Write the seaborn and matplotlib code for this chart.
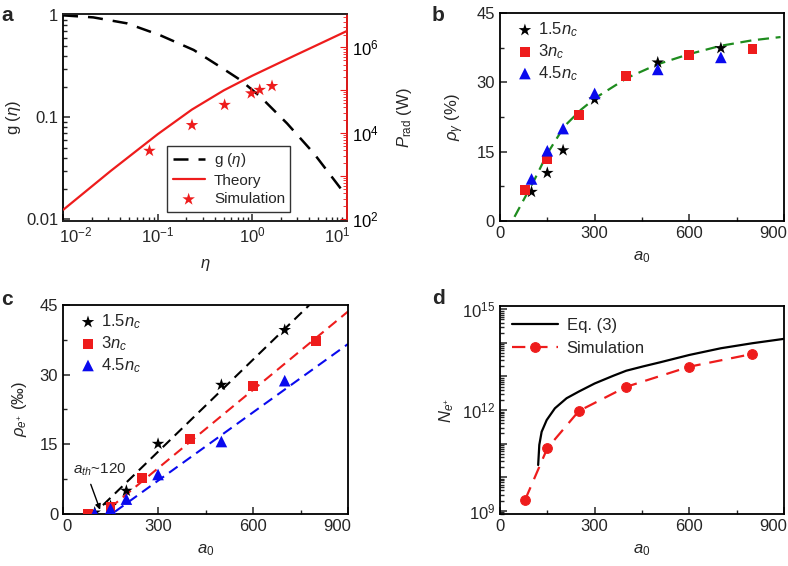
import numpy as np
import pandas as pd
import matplotlib
matplotlib.use("Agg")
import matplotlib.pyplot as plt
import matplotlib.ticker as mticker
import matplotlib.transforms as mtrans
import seaborn as sns

# ---- panel a ----
eta_g = [0.0099, 0.0207, 0.047, 0.105, 0.24, 0.457, 0.75, 1.22, 2.34, 4.49, 10.1]
g_eta = [1.0, 0.955, 0.835, 0.64, 0.457, 0.313, 0.232, 0.159, 0.087, 0.0443, 0.0166]
eta_th = [0.01, 0.0316, 0.1, 0.229, 0.5, 1.0, 2.75, 5.25, 10.0]
logp_theory = [2.22, 3.12, 3.98, 4.55, 5.0, 5.34, 5.80, 6.09, 6.38]
eta_sim = [0.0815, 0.23, 0.51, 0.977, 1.2, 1.62]
logp_sim = [3.59, 4.19, 4.66, 4.93, 5.01, 5.10]

# ---- panel b ----
b_a0_15 = [100, 150, 200, 300, 500, 700]
b_rho_15 = [6.3, 10.4, 15.3, 26.3, 34.3, 37.4]
b_a0_3 = [80, 150, 250, 400, 600, 800]
b_rho_3 = [6.7, 13.3, 23.0, 31.3, 35.9, 37.2]
b_a0_45 = [100, 150, 200, 300, 500, 700]
b_rho_45 = [9.1, 15.2, 20.0, 27.6, 32.8, 35.4]
b_fit_a0 = [46, 109, 151, 204, 257, 304, 404, 499, 599, 699, 800, 889]
b_fit_rho = [0.9, 8.9, 14.7, 20.5, 24.1, 26.7, 31.0, 33.9, 36.1, 37.9, 39.1, 39.8]

# ---- panel c ----
c_a0_15 = [100, 150, 200, 300, 500, 700]
c_rho_15 = [0.3, 1.7, 5.0, 15.1, 27.8, 39.6]
c_a0_3 = [80, 150, 250, 400, 600, 800]
c_rho_3 = [0.1, 1.5, 7.7, 16.2, 27.5, 37.3]
c_a0_45 = [100, 150, 200, 300, 500, 700]
c_rho_45 = [0.1, 1.1, 3.2, 8.5, 15.6, 28.7]
c_fit15_a0, c_fit15_rho = [126, 778], [1.9, 45.0]
c_fit3_a0, c_fit3_rho = [148, 900], [1.3, 43.6]
c_fit45_a0, c_fit45_rho = [164, 900], [0.5, 36.6]

# ---- panel d ----
d_eq_a0 = [121, 124.6, 132, 148, 174, 211, 250, 300, 359, 400, 454, 507, 600, 700, 800, 900]
d_eq_log = [10.36, 10.96, 11.35, 11.70, 12.05, 12.35, 12.55, 12.79, 13.02, 13.17,
            13.30, 13.42, 13.64, 13.84, 13.99, 14.12]
d_sim_a0 = [80, 150, 250, 400, 600, 800]
d_sim_log = [9.33, 10.86, 11.97, 12.69, 13.29, 13.67]

sns.set_style("ticks")
plt.rcParams["font.family"] = ["Liberation Sans", "DejaVu Sans"]
plt.rcParams["mathtext.fontset"] = "custom"
plt.rcParams["mathtext.rm"] = "Liberation Sans"
plt.rcParams["mathtext.it"] = "Liberation Sans:italic"
plt.rcParams["mathtext.bf"] = "Liberation Sans:bold"
plt.rcParams["xtick.direction"] = "in"
plt.rcParams["ytick.direction"] = "in"
plt.rcParams["axes.linewidth"] = 1.3

RED = "#ee1c1c"
BLUE = "#0a0aee"
GREEN = "#1e8c1e"
FS = 12

fig = plt.figure(figsize=(7.88, 5.66), dpi=100)
ax_a = fig.add_axes([0.080, 0.6095, 0.3604, 0.3657])
ax_b = fig.add_axes([0.6345, 0.6095, 0.3604, 0.3675])
ax_c = fig.add_axes([0.080, 0.0919, 0.3617, 0.3693])
ax_d = fig.add_axes([0.6345, 0.0919, 0.3604, 0.3675])


def style_ax(ax):
    for s in ax.spines.values():
        s.set_visible(True)
        s.set_color("black")
    ax.tick_params(which="major", length=5, width=1.1, labelsize=FS, top=False, right=False)
    ax.tick_params(which="minor", length=3, width=1.0, top=False, right=False)


def shift_xlabel(ax, idx, dx_px):
    t = ax.xaxis.get_major_ticks()[idx]
    t.label1.set_transform(t.label1.get_transform()
                           + mtrans.ScaledTranslation(dx_px / 100, 0, fig.dpi_scale_trans))


# ---------- a ----------
style_ax(ax_a)
ax_a.set_xscale("log")
ax_a.set_yscale("log")
sns.lineplot(x=eta_g, y=g_eta, ax=ax_a, color="black", linestyle=(0, (6, 4)), lw=1.8,
             estimator=None, sort=False, label=r"g ($\eta$)", legend=False)
ax_a.set_xlim(0.0099, 10.1)
ax_a.set_ylim(0.0096, 1.03)
ax_a.set_xticks([0.01, 0.1, 1, 10])
ax_a.set_yticks([0.01, 0.1, 1])
ax_a.yaxis.set_major_formatter(mticker.FuncFormatter(lambda v, p: {0.01: "0.01", 0.1: "0.1", 1: "1"}.get(round(v, 2), "")))
ax_a.yaxis.set_minor_formatter(mticker.NullFormatter())
ax_a.set_xlabel(r"$\eta$", fontsize=FS, labelpad=8)
ax_a.set_ylabel(r"g ($\eta$)", fontsize=FS, labelpad=2)

ax_a2 = ax_a.twinx()
ax_a2.set_yscale("log")
sns.lineplot(x=eta_th, y=10 ** np.array(logp_theory), ax=ax_a2, color=RED, lw=1.6,
             estimator=None, sort=False, label="Theory", legend=False)
sns.scatterplot(x=eta_sim, y=10 ** np.array(logp_sim), ax=ax_a2, color=RED, marker="*", s=90,
                edgecolor="none", label="Simulation", legend=False)
ax_a2.set_ylim(90, 6e6)
ax_a2.spines["right"].set_color(RED)
ax_a2.spines["right"].set_linewidth(1.3)
ax_a2.spines["left"].set_visible(False)
ax_a2.tick_params(axis="y", which="both", colors=RED, labelcolor="black", direction="in")
ax_a2.tick_params(axis="y", which="major", length=5, labelsize=FS)
ax_a2.tick_params(axis="y", which="minor", length=3)
ax_a2.yaxis.set_major_locator(mticker.LogLocator(base=10, numticks=10))
ax_a2.yaxis.set_major_formatter(mticker.FuncFormatter(
    lambda v, p: r"$10^{%d}$" % round(np.log10(v)) if round(np.log10(v)) in (2, 4, 6) else ""))
ax_a2.yaxis.set_minor_locator(mticker.LogLocator(base=10, subs=np.arange(2, 10), numticks=20))
ax_a2.set_ylabel(r"$P_{\mathrm{rad}}$ (W)", fontsize=FS, labelpad=12)

h1, l1 = ax_a.get_legend_handles_labels()
h2, l2 = ax_a2.get_legend_handles_labels()
leg = ax_a2.legend(h1 + h2, l1 + l2, loc="lower left", bbox_to_anchor=(0.367, 0.045),
                   fontsize=11, frameon=True, fancybox=False, edgecolor="black",
                   handlelength=2.1, handletextpad=0.6, borderpad=0.35, labelspacing=0.3,
                   borderaxespad=0)
leg.get_frame().set_linewidth(1.0)

# ---------- b ----------
style_ax(ax_b)
sns.lineplot(x=b_fit_a0, y=b_fit_rho, ax=ax_b, color=GREEN, linestyle=(0, (5, 3)), lw=1.6,
             estimator=None, sort=False, legend=False)
sns.scatterplot(x=b_a0_15, y=b_rho_15, ax=ax_b, color="black", marker="*", s=90,
                edgecolor="none", label=r"1.5$n_c$", zorder=3)
sns.scatterplot(x=b_a0_3, y=b_rho_3, ax=ax_b, color=RED, marker="s", s=50,
                edgecolor="none", label=r"3$n_c$", zorder=3)
sns.scatterplot(x=b_a0_45, y=b_rho_45, ax=ax_b, color=BLUE, marker="^", s=70,
                edgecolor="none", label=r"4.5$n_c$", zorder=3)
ax_b.set_xlim(0, 900)
ax_b.set_ylim(0, 45)
ax_b.set_xticks([0, 300, 600, 900])
ax_b.set_yticks([0, 15, 30, 45])
ax_b.xaxis.set_minor_locator(mticker.MultipleLocator(150))
ax_b.yaxis.set_minor_locator(mticker.MultipleLocator(7.5))
ax_b.set_xlabel(r"$a_0$", fontsize=FS, labelpad=6)
ax_b.set_ylabel(r"$\rho_{\gamma}$ (%)", fontsize=FS, labelpad=8)
ax_b.legend(loc="upper left", bbox_to_anchor=(0.032, 1.0), frameon=False, fontsize=FS,
            handlelength=1.0, handletextpad=0.3, borderaxespad=0.05, labelspacing=0.18)

# ---------- c ----------
style_ax(ax_c)
for xs, ys, col in [(c_fit15_a0, c_fit15_rho, "black"), (c_fit3_a0, c_fit3_rho, RED),
                    (c_fit45_a0, c_fit45_rho, BLUE)]:
    sns.lineplot(x=xs, y=ys, ax=ax_c, color=col, linestyle=(0, (5, 3)), lw=1.5,
                 estimator=None, sort=False, legend=False)
sns.scatterplot(x=c_a0_15, y=c_rho_15, ax=ax_c, color="black", marker="*", s=90,
                edgecolor="none", label=r"1.5$n_c$", zorder=3)
sns.scatterplot(x=c_a0_3, y=c_rho_3, ax=ax_c, color=RED, marker="s", s=50,
                edgecolor="none", label=r"3$n_c$", zorder=3)
sns.scatterplot(x=c_a0_45, y=c_rho_45, ax=ax_c, color=BLUE, marker="^", s=70,
                edgecolor="none", label=r"4.5$n_c$", zorder=3)
ax_c.set_xlim(0, 900)
ax_c.set_ylim(0, 45)
ax_c.set_xticks([0, 300, 600, 900])
ax_c.set_yticks([0, 15, 30, 45])
ax_c.xaxis.set_minor_locator(mticker.MultipleLocator(150))
ax_c.yaxis.set_minor_locator(mticker.MultipleLocator(7.5))
ax_c.set_xlabel(r"$a_0$", fontsize=FS, labelpad=6)
ax_c.set_ylabel(r"$\rho_{e^{+}}$ (‰)", fontsize=FS, labelpad=8)
ax_c.legend(loc="upper left", bbox_to_anchor=(0.032, 1.0), frameon=False, fontsize=FS,
            handlelength=1.0, handletextpad=0.3, borderaxespad=0.05, labelspacing=0.18)
ax_c.annotate(r"$a_{th}$~120", xy=(117, 0.9), xytext=(30, 8.6), fontsize=FS - 1,
              arrowprops=dict(arrowstyle="-|>", color="black", lw=1.0, mutation_scale=8,
                              relpos=(0.3, 0.0), shrinkA=2, shrinkB=0))

# ---------- d ----------
style_ax(ax_d)
ax_d.set_yscale("log")
sns.lineplot(x=d_eq_a0, y=10 ** np.array(d_eq_log), ax=ax_d, color="black", lw=1.6,
             estimator=None, sort=False, label="Eq. (3)")
sns.lineplot(x=d_sim_a0, y=10 ** np.array(d_sim_log), ax=ax_d, color=RED, lw=1.6,
             linestyle=(0, (6, 4)), marker="o", markersize=7, markeredgecolor=RED,
             estimator=None, sort=False, label="Simulation")
ax_d.set_xlim(0, 900)
ax_d.set_ylim(10 ** 8.9, 10 ** 15.1)
ax_d.set_xticks([0, 300, 600, 900])
ax_d.xaxis.set_minor_locator(mticker.MultipleLocator(150))
ax_d.yaxis.set_major_locator(mticker.FixedLocator([10.0 ** k for k in range(9, 16)]))
ax_d.yaxis.set_major_formatter(mticker.FuncFormatter(
    lambda v, p: r"$10^{%d}$" % round(np.log10(v)) if round(np.log10(v)) % 3 == 0 else ""))
ax_d.yaxis.set_minor_locator(mticker.LogLocator(base=10, subs=np.arange(2, 10), numticks=20))
ax_d.yaxis.set_minor_formatter(mticker.NullFormatter())
ax_d.set_xlabel(r"$a_0$", fontsize=FS, labelpad=6)
ax_d.set_ylabel(r"$N_{e^{+}}$", fontsize=FS, labelpad=4)
ax_d.legend(loc="upper left", frameon=False, fontsize=FS, handlelength=2.8,
            handletextpad=0.5, borderaxespad=0.3, labelspacing=0.5)

# edge tick labels pulled inward like the original
shift_xlabel(ax_a, 0, 12)
shift_xlabel(ax_a, -1, -9)
for ax in (ax_b, ax_c, ax_d):
    shift_xlabel(ax, -1, -11)
shift_xlabel(ax_c, 0, 4)

# panel letters
for lab, x, y in [("a", 0.002, 0.973), ("b", 0.548, 0.973), ("c", 0.002, 0.47), ("d", 0.548, 0.473)]:
    fig.text(x, y, lab, fontsize=15, fontweight="bold", va="center", ha="left")

fig.savefig("out.png", dpi=100)
